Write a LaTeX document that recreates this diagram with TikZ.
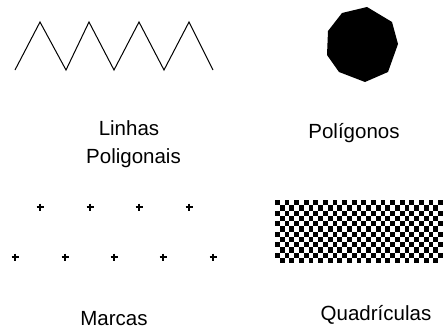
\documentclass[tikz,border=0pt]{standalone}
\usepackage{fontspec}
\setmainfont{Liberation Sans}
\begin{document}
\begin{tikzpicture}[x=1pt,y=-1pt,
  lbl/.style={anchor=base,inner sep=0pt,font=\fontsize{20.5}{24}\selectfont},
  mk/.style={line width=1.4pt},
  zig/.style={line width=1pt,line join=miter}]
\useasboundingbox (0,0) rectangle (443,329);
% polyline
\draw[zig] (15,70) -- (40,22) -- (66,70) -- (89,22) -- (114,70) -- (139,22) -- (164,70) -- (189,22) -- (213,70);
% polygon
\fill (367,7) -- (342,13) -- (328,31) -- (327,55) -- (339,72) -- (365,82) -- (388,72) -- (398,44) -- (392,22) -- cycle;
% marks
\foreach \x/\y in {40/207,90/207,139/207,189/207,15/257,65/257,114/257,163/257,213/257}{
  \draw[mk] (\x-3.5,\y) -- (\x+3.5,\y);
  \draw[mk] (\x,\y-3.5) -- (\x,\y+3.5);
}
% checkerboard
\begin{scope}
\clip (275,200) rectangle (443,263);
\foreach \i in {0,...,35}{
  \foreach \j in {0,...,11}{
    \pgfmathtruncatemacro{\cpar}{mod(\i+\j,2)}
    \ifnum\cpar=0
      \fill (275+4.8*\i,200+5.25*\j) rectangle ++(4.8,5.25);
    \fi
  }
}
\end{scope}
% labels
\node[lbl] (l1) at (129,135) {Linhas};
\node[lbl] (l2) at (133.5,163) {Poligonais};
\node[lbl] (l3) at (354,138) {Polígonos};
\node[lbl] (l4) at (114,325) {Marcas};
\node[lbl] (l5) at (376,320) {Quadrículas};
\end{tikzpicture}
\end{document}
